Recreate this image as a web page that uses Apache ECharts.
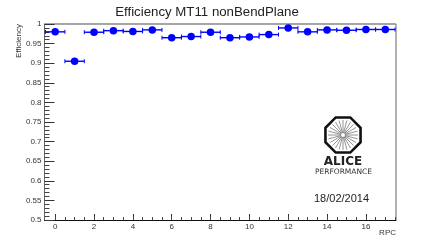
<!DOCTYPE html>
<html><head><meta charset="utf-8">
<style>html,body{margin:0;padding:0;background:#fff}#c{width:440px;height:245px}</style>
<script src="https://cdn.jsdelivr.net/npm/echarts@6/dist/echarts.min.js"></script>
</head><body><div id="c"></div>
<script>
const rpc = [0,1,2,3,4,5,6,7,8,9,10,11,12,13,14,15,16,17];
const efficiency = [0.980,0.905,0.979,0.983,0.981,0.985,0.965,0.968,0.979,0.965,0.967,0.973,0.990,0.980,0.985,0.984,0.986,0.986];
const xErr = 0.5;
const xMajorTicks = [0,2,4,6,8,10,12,14,16];
const xMinorTicks = [0,0.5,1,1.5,2,2.5,3,3.5,4,4.5,5,5.5,6,6.5,7,7.5,8,8.5,9,9.5,10,10.5,11,11.5,12,12.5,13,13.5,14,14.5,15,15.5,16,16.5,17,17.5];
const titleText = 'Efficiency MT11 nonBendPlane';
const dateText = '18/02/2014';

const FONT = '"Liberation Sans", Arial, sans-serif';
const BLUE = '#0000ff';
const chart = echarts.init(document.getElementById('c'), null, {renderer:'canvas'});

const cx = 343, cy = 135, R = 19;
const logo = [];
const oct = [];
for (let i = 0; i < 8; i++) {
  const a = Math.PI/8 + i*Math.PI/4;
  oct.push([cx + R*Math.cos(a), cy + R*Math.sin(a)]);
}
for (let i = 0; i < 24; i++) {
  const a = i*Math.PI/12;
  logo.push({type:'line', silent:true,
    shape:{x1:cx+2*Math.cos(a), y1:cy+2*Math.sin(a), x2:cx+15*Math.cos(a), y2:cy+15*Math.sin(a)},
    style:{stroke:'#777', lineWidth:0.8}});
}
logo.push({type:'polygon', silent:true, shape:{points:oct}, style:{fill:'none', stroke:'#111', lineWidth:2.6}});
logo.push({type:'text', silent:true, x:343, y:162, style:{text:'ALICE', font:'bold 12px "DejaVu Sans", sans-serif', fill:'#222', align:'center', verticalAlign:'middle'}});
logo.push({type:'text', silent:true, x:343.5, y:172, style:{text:'PERFORMANCE', font:'7.5px "DejaVu Sans", sans-serif', fill:'#333', align:'center', verticalAlign:'middle'}});

chart.setOption({
  animation:false,
  backgroundColor:'#fff',
  title:{text:titleText, left:202, top:1, textAlign:'center', textStyle:{fontFamily:FONT, fontSize:13.25, fontWeight:'normal', color:'#222'}},
  graphic:[
    ...logo,
    {type:'text', silent:true, x:341.5, y:199, style:{text:dateText, font:'11px '+FONT, fill:'#222', align:'center', verticalAlign:'middle'}},
    {type:'line', silent:true, shape:{x1:44.5,y1:24,x2:396,y2:24}, style:{stroke:'#888',lineWidth:1.3}},
    {type:'line', silent:true, shape:{x1:396,y1:24,x2:396,y2:220}, style:{stroke:'#888',lineWidth:1.3}}
  ],
  grid:{left:44.5, right:44, top:24, bottom:25},
  xAxis:[{
    type:'value', min:-0.55, max:17.55, position:'bottom', containShape:false,
    splitLine:{show:false},
    axisLine:{show:true, onZero:false, lineStyle:{color:'#111', width:1}},
    axisTick:{show:true, inside:true, length:6, customValues:xMajorTicks, lineStyle:{color:'#333', width:1}},
    axisLabel:{show:true, customValues:xMajorTicks, color:'#333', fontFamily:FONT, fontSize:8, margin:3},
    name:'RPC', nameLocation:'end', nameGap:0,
    nameTextStyle:{fontFamily:FONT, fontSize:8, color:'#333', align:'right', verticalAlign:'top', padding:[9,0,0,0]}
  },{
    type:'value', min:-0.55, max:17.55, position:'bottom', containShape:false,
    splitLine:{show:false},
    axisLine:{show:false},
    axisTick:{show:true, inside:true, length:3, customValues:xMinorTicks, lineStyle:{color:'#444', width:1}},
    axisLabel:{show:false}
  }],
  yAxis:{
    type:'value', min:0.5, max:1, interval:0.05, containShape:false,
    splitLine:{show:false}, minorSplitLine:{show:false},
    axisLine:{show:true, onZero:false, lineStyle:{color:'#666', width:1}},
    axisTick:{show:true, inside:true, length:10, lineStyle:{color:'#333', width:1}},
    minorTick:{show:true, splitNumber:5, length:5, lineStyle:{color:'#444', width:1}},
    axisLabel:{color:'#333', fontFamily:FONT, fontSize:8, margin:3, formatter:v=>String(+v.toFixed(2))},
    name:'Efficiency', nameLocation:'end', nameRotate:90, nameGap:0,
    nameTextStyle:{fontFamily:FONT, fontSize:8, color:'#333', align:'right', verticalAlign:'bottom', padding:[0,0,22,0]}
  },
  series:[{
    type:'custom', coordinateSystem:'cartesian2d', xAxisIndex:0, z:2, clip:false,
    data: rpc.map((x,i)=>[x, efficiency[i]]),
    encode:{x:0,y:1},
    renderItem:(p,api)=>{
      const x=api.value(0), y=api.value(1);
      const a=api.coord([x-xErr,y]), b=api.coord([x+xErr,y]);
      const st={stroke:BLUE, lineWidth:1.4};
      const right=Math.min(b[0],396);
      const kids=[{type:'line',shape:{x1:a[0],y1:a[1],x2:right,y2:b[1]},style:st},
        {type:'line',shape:{x1:a[0],y1:a[1]-2,x2:a[0],y2:a[1]+2},style:{stroke:BLUE,lineWidth:1}}];
      if(b[0]<396) kids.push({type:'line',shape:{x1:b[0],y1:b[1]-2,x2:b[0],y2:b[1]+2},style:{stroke:BLUE,lineWidth:1}});
      return {type:'group',children:kids};
    }
  },{
    type:'scatter', xAxisIndex:0, z:3, symbol:'circle', symbolSize:7.5,
    itemStyle:{color:BLUE, opacity:1},
    data: rpc.map((x,i)=>[x, efficiency[i]])
  }]
});
</script></body></html>
